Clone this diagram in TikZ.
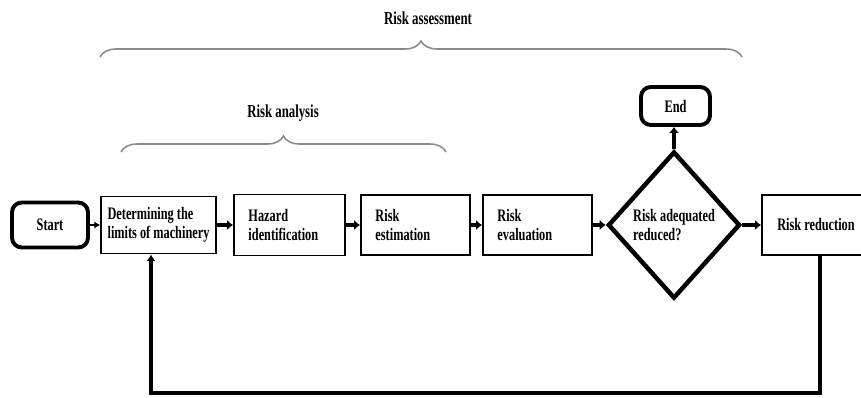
\documentclass[tikz,border=0pt]{standalone}
\usepackage{fontspec}
\setmainfont{Liberation Serif}[FakeStretch=0.7]
\usepackage{xcolor}
\definecolor{accolade}{HTML}{8A8A8A}
\usetikzlibrary{positioning,arrows.meta,shapes.geometric,decorations.pathreplacing}

\begin{document}
\begin{tikzpicture}[x=0.025cm,y=0.025cm,
  font=\fontsize{12.5}{13.5}\selectfont\bfseries,
  etape/.style={draw,line width=1.4pt,minimum height=1.5cm,align=left,inner sep=0pt},
  terminal/.style={draw,line width=2.8pt,rounded corners=7pt,inner sep=0pt},
  fleche/.style={line width=2.8pt,-{Latex[length=1.5mm,width=2.6mm]}},
  accolade/.style={draw=accolade,line width=1.1pt,decorate,decoration={brace,amplitude=0.4cm}},
  titre/.style={font=\fontsize{13}{14}\selectfont\bfseries}]
\useasboundingbox (0,0) rectangle (861,397);
% étapes du processus
\node[terminal,minimum width=1.9cm,minimum height=1.125cm] (start) at (50,172) {Start};
\node[etape,minimum width=2.875cm,minimum height=1.425cm] (limites) at (158.5,172) {Determining the\\limits of machinery};
\node[etape,minimum width=2.775cm,minimum height=1.525cm,text width=2.05cm] (danger) at (289.5,172) {Hazard\\identification};
\node[etape,minimum width=2.725cm,text width=2.0cm] (estimation) at (415.5,172) {Risk\\estimation};
\node[etape,minimum width=2.725cm,text width=2.0cm] (evaluation) at (537.5,172) {Risk\\evaluation};
\node[diamond,draw,line width=3.2pt,minimum width=3.3cm,minimum height=3.675cm,inner sep=0pt,align=left] (decision) at (674,172) {Risk adequated\\reduced?};
\node[terminal,minimum width=1.725cm,minimum height=0.95cm] (fin) at (675.5,291) {End};
\node[etape,minimum width=2.7cm] (reduction) at (816,172) {Risk reduction};
% liaisons
\draw[line width=1.2pt,-{Latex[length=1.4mm,width=1.8mm]}] (start) -- (limites);
\draw[fleche] (limites) -- (danger);
\draw[fleche] (danger) -- (estimation);
\draw[fleche] (estimation) -- (evaluation);
\draw[fleche] (evaluation) -- (decision);
\draw[fleche] (decision) -- (reduction);
\draw[fleche] (decision.north) -- (decision.north |- fin.south);
% boucle de retour
\coordinate (retourd) at (820,4);
\coordinate (retourg) at (151,4);
\draw[line width=2.2pt,-{Latex[length=1.6mm,width=2.2mm]}] (reduction.south -| retourd) -- (retourd) -- (retourg) -- (limites.south -| retourg);
% accolades
\draw[accolade] (100,340) -- (742,340);
\node[titre] (appreciation) at (428,379) {Risk assessment};
\draw[accolade] (121,245) -- (446,245);
\node[titre] (analyse) at (283,284) {Risk analysis};
\end{tikzpicture}
\end{document}
